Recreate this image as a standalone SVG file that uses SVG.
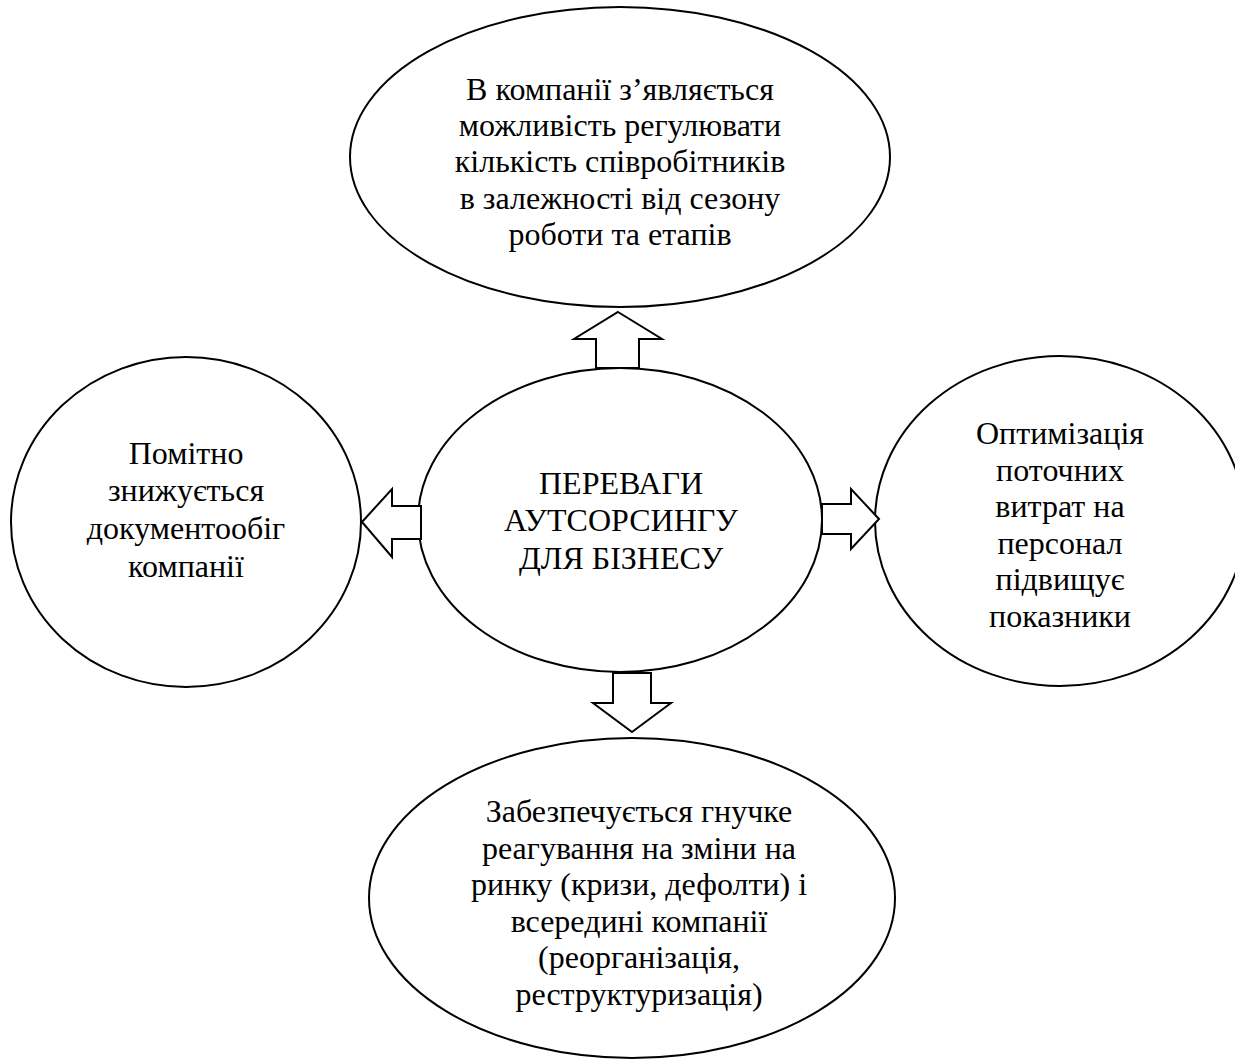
<svg xmlns="http://www.w3.org/2000/svg" width="1235" height="1061" viewBox="0 0 1235 1061">
<style>
.node{fill:#fff;stroke:#000;stroke-width:2}
.arrow{fill:#fff;stroke:#000;stroke-width:2;stroke-linejoin:miter}
.t{font-family:"Liberation Serif","Times New Roman",serif;font-size:32px;fill:#000;text-anchor:middle}
</style>
<rect width="1235" height="1061" fill="#fff"/>
<g id="node-top">
<ellipse class="node" cx="620" cy="157" rx="270" ry="150"/>
<text class="t"><tspan x="620" y="100">В компанії з’являється</tspan><tspan x="620" y="136">можливість регулювати</tspan><tspan x="620" y="172">кількість співробітників</tspan><tspan x="620" y="209">в залежності від сезону</tspan><tspan x="620" y="245">роботи та етапів</tspan></text>
</g>
<g id="node-center">
<ellipse class="node" cx="620" cy="520" rx="202" ry="152"/>
<text class="t"><tspan x="621" y="494">ПЕРЕВАГИ</tspan><tspan x="621" y="531">АУТСОРСИНГУ</tspan><tspan x="621" y="569">ДЛЯ БІЗНЕСУ</tspan></text>
</g>
<g id="node-left">
<ellipse class="node" cx="186" cy="522" rx="175" ry="165"/>
<text class="t"><tspan x="186" y="464">Помітно</tspan><tspan x="186" y="501">знижується</tspan><tspan x="186" y="539">документообіг</tspan><tspan x="186" y="577">компанії</tspan></text>
</g>
<g id="node-right">
<ellipse class="node" cx="1060" cy="521" rx="185" ry="165"/>
<text class="t"><tspan x="1060" y="444">Оптимізація</tspan><tspan x="1060" y="481">поточних</tspan><tspan x="1060" y="517">витрат на</tspan><tspan x="1060" y="554">персонал</tspan><tspan x="1060" y="590">підвищує</tspan><tspan x="1060" y="627">показники</tspan></text>
</g>
<g id="node-bottom">
<ellipse class="node" cx="632" cy="898" rx="263" ry="160"/>
<text class="t"><tspan x="639" y="822">Забезпечується гнучке</tspan><tspan x="639" y="858.5">реагування на зміни на</tspan><tspan x="639" y="895">ринку (кризи, дефолти) і</tspan><tspan x="639" y="931.5">всередині компанії</tspan><tspan x="639" y="968">(реорганізація,</tspan><tspan x="639" y="1004.5">реструктуризація)</tspan></text>
</g>
<g id="connectors">
<polygon class="arrow" points="618,312 662,339 639,339 639,368 596,368 596,339 574,339"/>
<polygon class="arrow" points="362,522 392,489 392,506 421,506 421,539 392,539 392,557"/>
<polygon class="arrow" points="879,519 851,489 851,504 822,504 822,534 851,534 851,549"/>
<polygon class="arrow" points="632,732 671,703 651,703 651,673 613,673 613,703 593,703"/>
</g>
</svg>
